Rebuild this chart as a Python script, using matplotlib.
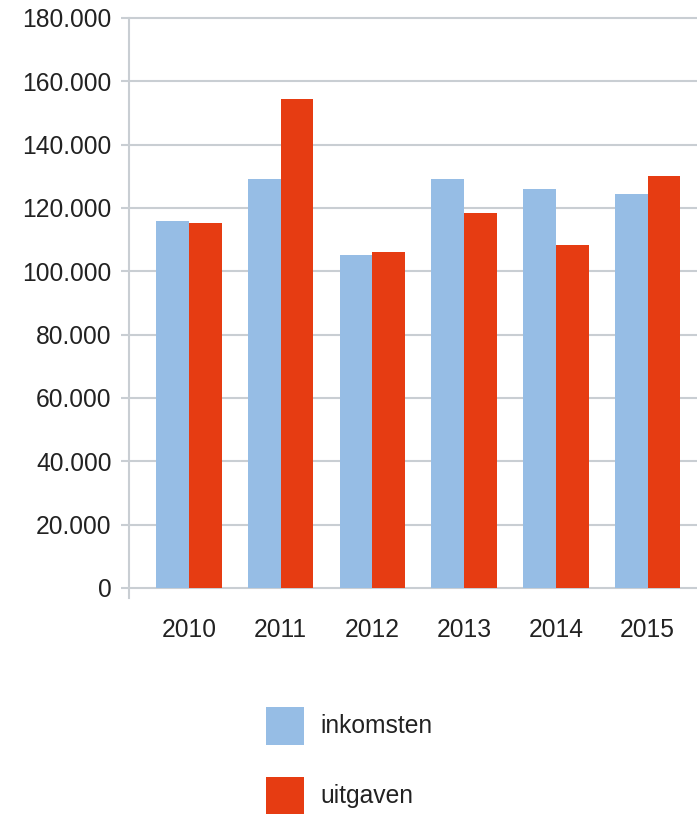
import numpy as np
import matplotlib
matplotlib.use("Agg")
from matplotlib import pyplot as plt
from matplotlib.ticker import FuncFormatter

years = ["2010", "2011", "2012", "2013", "2014", "2015"]
inkomsten = [116000, 129000, 105000, 129000, 126000, 124500]
uitgaven = [115300, 154300, 106000, 118500, 108300, 130200]
y_ticks = list(range(0, 180001, 20000))

blue = "#96BDE5"
red = "#E63C12"
grid_col = "#C9CED3"

plt.rcParams["font.family"] = ["Liberation Sans", "DejaVu Sans"]
plt.rcParams["font.size"] = 17.7

fig = plt.figure(figsize=(6.97, 8.14), dpi=100)
ax = fig.add_axes([128.6 / 697, 0.2649, 1 - 128.6 / 697, 0.7171])

x = np.arange(len(years))
w = 0.357
b1 = ax.bar(x - w / 2, inkomsten, w, color=blue, label="inkomsten", zorder=3)
b2 = ax.bar(x + w / 2, uitgaven, w, color=red, label="uitgaven", zorder=3)

ax.set_xlim(-0.659, 5.539)
ax.set_ylim(-3300, 181000)
ax.set_yticks(y_ticks)
ax.yaxis.set_major_formatter(FuncFormatter(lambda v, p: f"{int(v):,}".replace(",", ".")))
ax.set_xticks(x)
ax.set_xticklabels(years)

ax.yaxis.grid(True, color=grid_col, linewidth=1.5, zorder=0)
for s in ["top", "right", "bottom"]:
    ax.spines[s].set_visible(False)
ax.spines["left"].set_color(grid_col)
ax.spines["left"].set_linewidth(1.5)
ax.spines["left"].set_bounds(-3300, 180000)

ax.tick_params(axis="y", length=5.8, width=1.5, color=grid_col, pad=6.5, labelcolor="#222222")
ax.tick_params(axis="x", length=0, pad=14, labelcolor="#222222")

fig.legend(handles=[b1, b2], loc="upper left",
           bbox_to_anchor=(266 / 697, 1 - 706.7 / 814),
           frameon=False, borderpad=0, borderaxespad=0,
           handlelength=1.545, handleheight=2.0, handletextpad=0.65,
           labelspacing=1.3, labelcolor="#222222")

fig.savefig("out.png", dpi=100)
